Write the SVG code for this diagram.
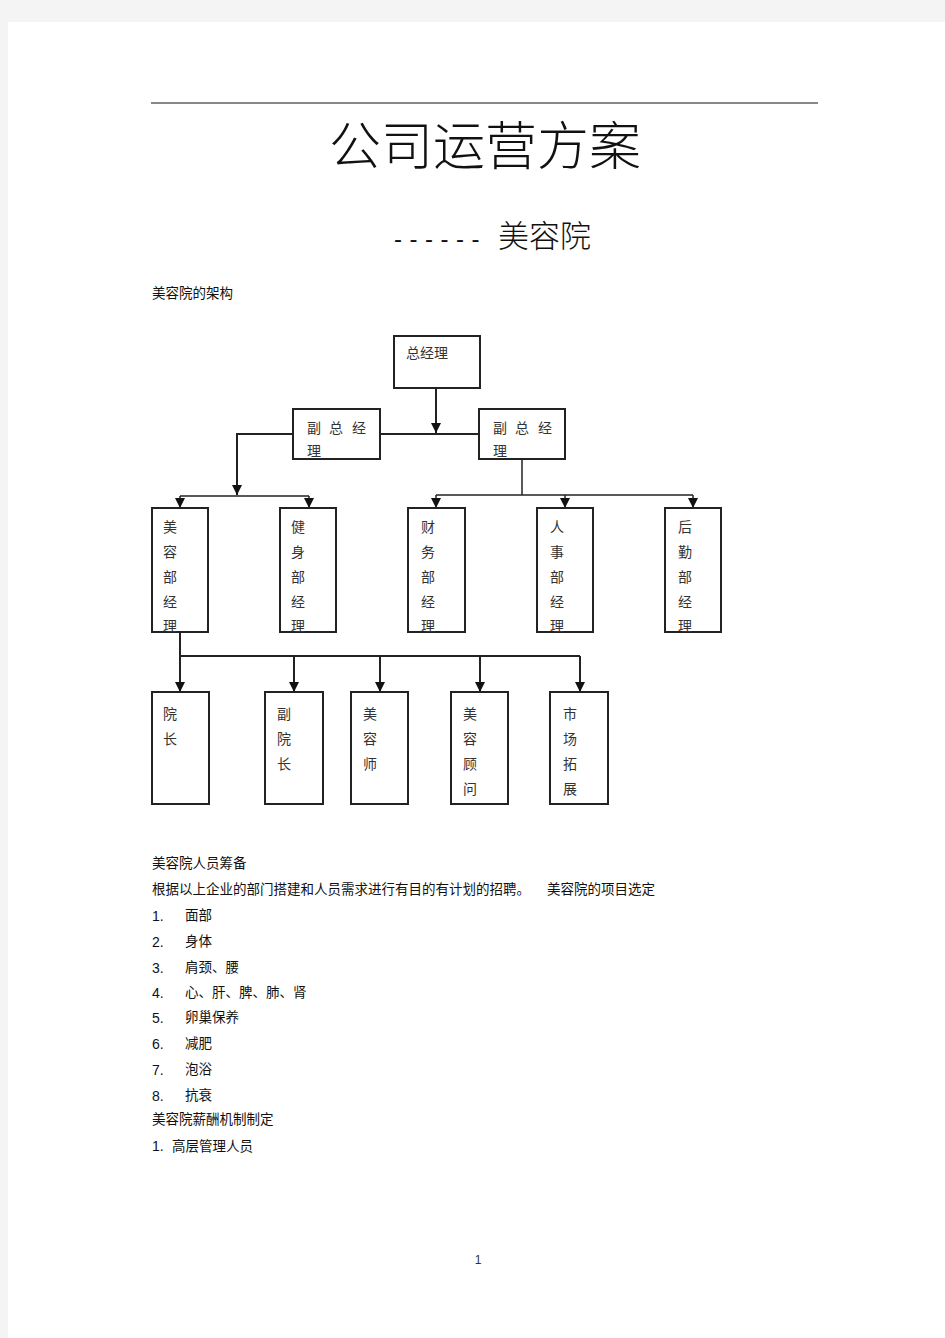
<svg xmlns="http://www.w3.org/2000/svg" width="945" height="1338" viewBox="0 0 945 1338">
<style>
.cj{font-family:"Noto Sans CJK SC","Noto Sans",sans-serif;}
.body{font-family:"Liberation Sans","Noto Sans CJK SC",sans-serif;font-size:13.5px;fill:#111;}
.node rect{fill:#fff;stroke:#222;stroke-width:2;}
.node text{font-family:"Noto Sans CJK SC",sans-serif;font-size:14px;fill:#333;}
.conn{fill:none;stroke:#222;stroke-width:2;}
.thin{stroke-width:1.5;}
</style>
<defs>
<marker id="ah" markerUnits="userSpaceOnUse" markerWidth="10" markerHeight="10" refX="10" refY="5" orient="auto" viewBox="0 0 10 10">
<path d="M0,0 L10,5 L0,10 z" fill="#111"/>
</marker>
</defs>
<rect x="0" y="0" width="945" height="1338" fill="#f4f4f4"/>
<rect x="8" y="22" width="937" height="1316" fill="#ffffff"/>

<line x1="151" y1="103" x2="818" y2="103" stroke="#111" stroke-width="1"/>
<text x="485" y="165" class="cj" font-size="52" font-weight="300" text-anchor="middle" fill="#111">公司运营方案</text>
<text x="394" y="247" font-family="Liberation Sans,sans-serif" font-size="24" letter-spacing="7.5" fill="#111">------</text>
<text x="498" y="247" class="cj" font-size="31" font-weight="300" fill="#111">美容院</text>
<text x="152" y="298" class="body">美容院的架构</text>

<g id="connectors">
<path class="conn" d="M436,388 V433" marker-end="url(#ah)"/>
<path class="conn" d="M380,434 H479" stroke-width="2.5"/>
<path class="conn" d="M293,434 H237 V495" marker-end="url(#ah)"/>
<path class="conn thin" d="M180,496 H309"/>
<path class="conn thin" d="M180,496 V508" marker-end="url(#ah)"/>
<path class="conn thin" d="M309,496 V508" marker-end="url(#ah)"/>
<path class="conn thin" d="M522,459 V495"/>
<path class="conn thin" d="M436,495 H693"/>
<path class="conn thin" d="M436,495 V508" marker-end="url(#ah)"/>
<path class="conn thin" d="M565,495 V508" marker-end="url(#ah)"/>
<path class="conn thin" d="M693,495 V508" marker-end="url(#ah)"/>
<path class="conn" d="M180,632 V656 H580"/>
<path class="conn" d="M180,656 V692" marker-end="url(#ah)"/>
<path class="conn" d="M294,656 V692" marker-end="url(#ah)"/>
<path class="conn" d="M380,656 V692" marker-end="url(#ah)"/>
<path class="conn" d="M480,656 V692" marker-end="url(#ah)"/>
<path class="conn" d="M580,656 V692" marker-end="url(#ah)"/>
</g>

<g id="gm" class="node"><rect x="394" y="336" width="86" height="52"/><text x="406" y="358">总经理</text></g>
<g id="vgm1" class="node"><rect x="293" y="409" width="87" height="50"/><text x="307" y="433">副</text><text x="329" y="433">总</text><text x="352" y="433">经</text><text x="307" y="456">理</text></g>
<g id="vgm2" class="node"><rect x="479" y="409" width="86" height="50"/><text x="493" y="433">副</text><text x="515" y="433">总</text><text x="538" y="433">经</text><text x="493" y="456">理</text></g>

<g id="d1" class="node"><rect x="152" y="508" width="56" height="124"/><text x="163" y="532">美</text><text x="163" y="557">容</text><text x="163" y="582">部</text><text x="163" y="607">经</text><text x="163" y="631">理</text></g>
<g id="d2" class="node"><rect x="280" y="508" width="56" height="124"/><text x="291" y="532">健</text><text x="291" y="557">身</text><text x="291" y="582">部</text><text x="291" y="607">经</text><text x="291" y="631">理</text></g>
<g id="d3" class="node"><rect x="408" y="508" width="57" height="124"/><text x="421" y="532">财</text><text x="421" y="557">务</text><text x="421" y="582">部</text><text x="421" y="607">经</text><text x="421" y="631">理</text></g>
<g id="d4" class="node"><rect x="537" y="508" width="56" height="124"/><text x="550" y="532">人</text><text x="550" y="557">事</text><text x="550" y="582">部</text><text x="550" y="607">经</text><text x="550" y="631">理</text></g>
<g id="d5" class="node"><rect x="665" y="508" width="56" height="124"/><text x="678" y="532">后</text><text x="678" y="557">勤</text><text x="678" y="582">部</text><text x="678" y="607">经</text><text x="678" y="631">理</text></g>

<g id="s1" class="node"><rect x="152" y="692" width="57" height="112"/><text x="163" y="719">院</text><text x="163" y="744">长</text></g>
<g id="s2" class="node"><rect x="265" y="692" width="58" height="112"/><text x="277" y="719">副</text><text x="277" y="744">院</text><text x="277" y="769">长</text></g>
<g id="s3" class="node"><rect x="351" y="692" width="57" height="112"/><text x="363" y="719">美</text><text x="363" y="744">容</text><text x="363" y="769">师</text></g>
<g id="s4" class="node"><rect x="451" y="692" width="57" height="112"/><text x="463" y="719">美</text><text x="463" y="744">容</text><text x="463" y="769">顾</text><text x="463" y="794">问</text></g>
<g id="s5" class="node"><rect x="550" y="692" width="58" height="112"/><text x="563" y="719">市</text><text x="563" y="744">场</text><text x="563" y="769">拓</text><text x="563" y="794">展</text></g>

<g class="body">
<text x="152" y="868">美容院人员筹备</text>
<text x="152" y="894">根据以上企业的部门搭建和人员需求进行有目的有计划的招聘。</text>
<text x="547" y="894">美容院的项目选定</text>
<text x="152" y="921" font-size="14">1.</text><text x="185" y="920">面部</text>
<text x="152" y="947" font-size="14">2.</text><text x="185" y="946">身体</text>
<text x="152" y="973" font-size="14">3.</text><text x="185" y="972">肩颈、腰</text>
<text x="152" y="998" font-size="14">4.</text><text x="185" y="997">心、肝、脾、肺、肾</text>
<text x="152" y="1023" font-size="14">5.</text><text x="185" y="1022">卵巢保养</text>
<text x="152" y="1049" font-size="14">6.</text><text x="185" y="1048">减肥</text>
<text x="152" y="1075" font-size="14">7.</text><text x="185" y="1074">泡浴</text>
<text x="152" y="1101" font-size="14">8.</text><text x="185" y="1100">抗衰</text>
<text x="152" y="1124">美容院薪酬机制制定</text>
<text x="152" y="1151" font-size="14">1.</text><text x="172" y="1151">高层管理人员</text>
</g>
<text x="478" y="1264" font-family="Liberation Sans,sans-serif" font-size="12" fill="#333" text-anchor="middle">1</text>
</svg>
